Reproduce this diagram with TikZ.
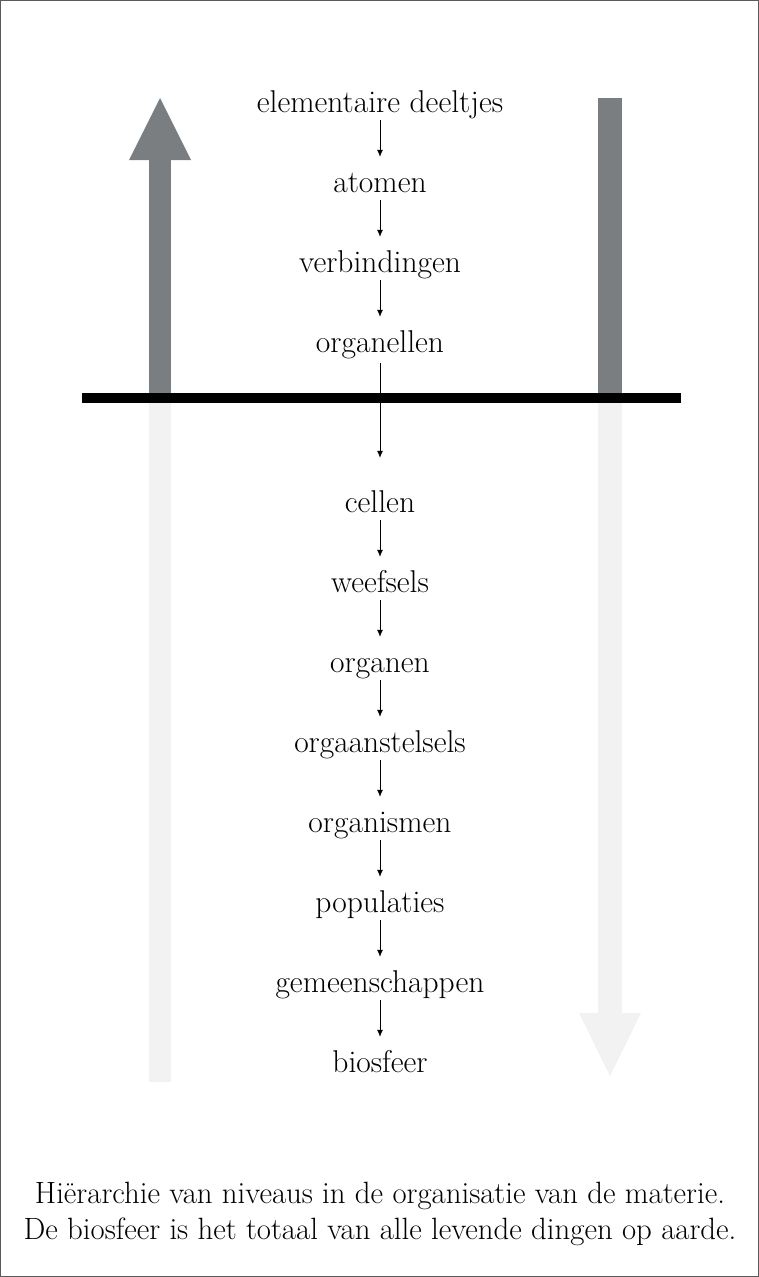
\documentclass[tikz,border=0pt]{standalone}
\usetikzlibrary{arrows.meta}
\definecolor{darkbar}{RGB}{122,126,128}
\definecolor{lightbar}{RGB}{242,242,242}
\definecolor{framegray}{RGB}{90,90,90}
\tikzset{
  level/.style={font=\fontsize{31.5}{36}\selectfont, inner sep=0pt, text height=20pt, text depth=6pt, anchor=base},
  caption/.style={font=\fontsize{30.8}{36}\selectfont, align=center, inner sep=0pt, anchor=base},
  smallarrow/.style={line width=0.8pt, -{Latex[length=7pt,width=6pt]}, shorten <=2pt, shorten >=15pt},
}
\begin{document}
\begin{tikzpicture}[x=1pt,y=-1pt]
\useasboundingbox (0,0) rectangle (759,1277);
\draw[framegray, line width=1pt] (0.5,0.5) rectangle (758.5,1276.5);
% left arrow (up)
\fill[lightbar] (149,403) rectangle (171,1082);
\fill[darkbar] (149,160) rectangle (171,393);
\fill[darkbar] (129,160) -- (160,98) -- (191,160) -- cycle;
% right arrow (down)
\fill[darkbar] (598,98) rectangle (622,393);
\fill[lightbar] (598,403) rectangle (622,1013);
\fill[lightbar] (579,1013) -- (641,1013) -- (610,1076) -- cycle;
% divider
\fill[black] (82,393) rectangle (681,403);
% levels
\node[level] (n1) at (380,112) {elementaire deeltjes};
\node[level] (n2) at (380,192) {atomen};
\node[level] (n3) at (380,272) {verbindingen};
\node[level] (n4) at (380,352) {organellen};
\node[level] (n5) at (380,512) {cellen};
\node[level] (n6) at (380,592) {weefsels};
\node[level] (n7) at (380,672) {organen};
\node[level] (n8) at (380,752) {orgaanstelsels};
\node[level] (n9) at (380,832) {organismen};
\node[level] (n10) at (380,912) {populaties};
\node[level] (n11) at (380,992) {gemeenschappen};
\node[level] (n12) at (380,1072) {biosfeer};
\draw[smallarrow] (n1.south) -- (n2.north);
\draw[smallarrow] (n2.south) -- (n3.north);
\draw[smallarrow] (n3.south) -- (n4.north);
\draw[smallarrow, shorten <=5pt, shorten >=34pt] (n4.south) -- (n5.north);
\draw[smallarrow] (n5.south) -- (n6.north);
\draw[smallarrow] (n6.south) -- (n7.north);
\draw[smallarrow] (n7.south) -- (n8.north);
\draw[smallarrow] (n8.south) -- (n9.north);
\draw[smallarrow] (n9.south) -- (n10.north);
\draw[smallarrow] (n10.south) -- (n11.north);
\draw[smallarrow] (n11.south) -- (n12.north);
% caption
\node[caption] (cap) at (380,1239) {Hiërarchie van niveaus in de organisatie van de materie.\\De biosfeer is het totaal van alle levende dingen op aarde.};
\end{tikzpicture}
\end{document}
